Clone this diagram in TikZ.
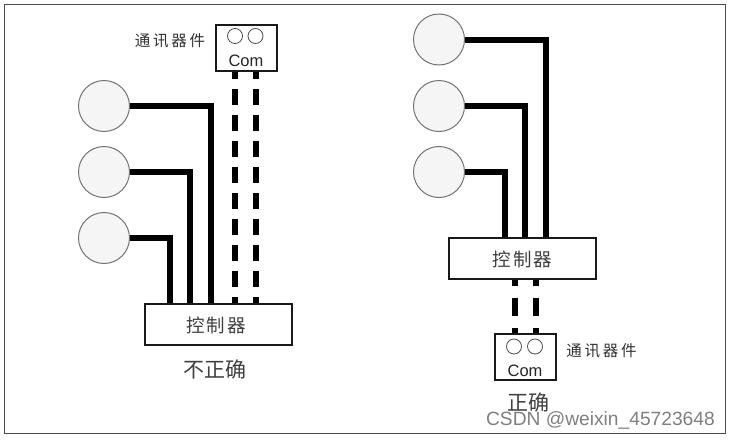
\documentclass[tikz,border=0pt]{standalone}
\usepackage{fontspec}
\usetikzlibrary{backgrounds}
\setmainfont{Liberation Sans}
\newfontfamily\cjk{Noto Sans CJK SC}
\newfontfamily\cjkwide[LetterSpace=10]{Noto Sans CJK SC}
\newfontfamily\cjkwider[LetterSpace=18]{Noto Sans CJK SC}
\begin{document}
\begin{tikzpicture}[x=1pt,y=-1pt,
  disc/.style={circle,draw=black!55,line width=1pt,fill=black!4,minimum size=51pt,inner sep=0pt},
  hole/.style={circle,draw=black!70,line width=0.8pt,fill=white,minimum size=15pt,inner sep=0pt},
  ctrlbox/.style={draw=black!90,line width=2pt,fill=white,minimum width=147pt,minimum height=41pt,inner sep=0pt},
  ctrltext/.style={font=\cjkwide\fontsize{18.5}{18.5}\selectfont,text=black!75,inner sep=0pt},
  combox/.style={draw=black!90,line width=2pt,fill=white,minimum width=61pt,minimum height=46pt,inner sep=0pt},
  comtext/.style={font=\fontsize{16.5}{17}\selectfont,text=black!85,inner sep=0pt},
  wire/.style={line width=6pt,black},
  dashA/.style={line width=6pt,black,dash pattern=on 16pt off 10pt,dash phase=8.5pt},
  dashB/.style={line width=6pt,black,dash pattern=on 18pt off 12pt,dash phase=12pt},
  lab/.style={font=\cjkwider\fontsize{15.5}{15.5}\selectfont,text=black!80,inner sep=0pt},
  verdict/.style={font=\cjk\fontsize{21}{21}\selectfont,text=black!75,inner sep=0pt}
]
\useasboundingbox (0,0) rectangle (730,439);
\node[draw=black!70,line width=1.2pt,minimum width=721pt,minimum height=429pt,inner sep=0pt,anchor=north west] (frame) at (3.5,4) {};

% left
\node[disc] (a1) at (104,106) {};
\node[disc] (a2) at (104,172) {};
\node[disc] (a3) at (104,238) {};
\node[combox] (ca) at (246,47.5) {};
\node[ctrlbox] (pa) at (218.5,324) {};
\node[ctrltext] (pat) at (216,325.5) {控制器};
\node[hole] (ha1) at (235,36) {};
\node[hole] (ha2) at (255.5,36) {};
\node[comtext] (ta) at (246,60.5) {Com};
\node[lab] (la) at (170,41) {通讯器件};
\node[verdict] (ka) at (214.5,369) {不正确};

% right
\node[disc] (b1) at (439,39.5) {};
\node[disc] (b2) at (439,106) {};
\node[disc] (b3) at (439,172) {};
\node[ctrlbox] (pb) at (522.5,258) {};
\node[ctrltext] (pbt) at (522.5,259.5) {控制器};
\node[combox] (cb) at (525.5,357) {};
\node[hole] (hb1) at (514,346.5) {};
\node[hole] (hb2) at (535,346.5) {};
\node[comtext] (tb) at (525,370.5) {Com};
\node[lab] (lb) at (601.5,351) {通讯器件};
\node[verdict] (kb) at (528,402) {正确};
\node[font=\fontsize{19.2}{19.2}\selectfont,text=black!50,inner sep=0pt,anchor=east] (wm) at (715,420) {CSDN @weixin\_45723648};

\begin{scope}[on background layer]
\fill[white] (0,0) rectangle (730,439);
\draw[wire] (a1.east) -| (pa.north -| 211,0);
\draw[wire] (a2.east) -| (pa.north -| 190,0);
\draw[wire] (a3.east) -| (pa.north -| 170,0);
\draw[dashA] (ca.south -| 235,0) -- (pa.north -| 235,0);
\draw[dashA] (ca.south -| 256,0) -- (pa.north -| 256,0);
\draw[wire] (b1.east) -| (pb.north -| 545.5,0);
\draw[wire] (b2.east) -| (pb.north -| 525,0);
\draw[wire] (b3.east) -| (pb.north -| 505,0);
\draw[dashB] (pb.south -| 515,0) -- (cb.north -| 515,0);
\draw[dashB] (pb.south -| 536,0) -- (cb.north -| 536,0);
\end{scope}
\end{tikzpicture}
\end{document}
